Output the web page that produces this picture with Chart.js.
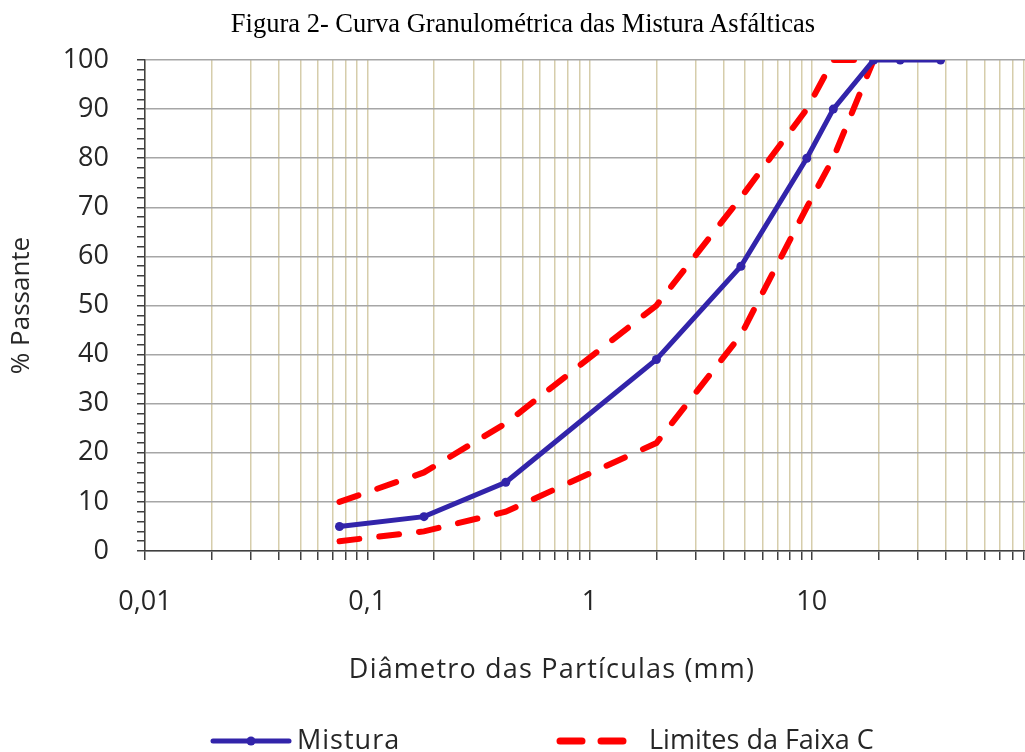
<!DOCTYPE html>
<html>
<head>
<meta charset="utf-8">
<script src="https://cdn.jsdelivr.net/npm/chart.js@4.4.1/dist/chart.umd.min.js"></script>
<style>
  body { margin: 0; background: #fff; overflow: hidden; }
  #page { position: relative; width: 1025px; height: 752px; overflow: hidden; }
  #wrap { position: absolute; left: 0; top: 0; width: 1060px; height: 752px; }
  #titulo { position: absolute; left: 0; width: 1046px; top: 10px; text-align: center;
    font: 26.5px/26px "Liberation Serif", "Times New Roman", serif; color: #000; white-space: nowrap; }
  #xtitulo { position: absolute; left: 552px; top: 655px; transform: translateX(-50%);
    font: 27px/26px "Open Sans", sans-serif; letter-spacing: 1.2px; color: #262626; white-space: nowrap; }
</style>
</head>
<body>
<div id="page">
  <div id="wrap"><canvas id="curva"></canvas></div>
  <div id="titulo">Figura 2- Curva Granulométrica das Mistura Asfálticas</div>
  <div id="xtitulo">Diâmetro das Partículas (mm)</div>
</div>
<script>
// Peneiras (mm) e % passante
const peneiras = [0.075, 0.18, 0.42, 2.0, 4.8, 9.5, 12.5, 19, 25, 38];
const mistura = [5, 7, 14, 39, 58, 80, 90, 100, 100, 100];

const peneirasFaixa = [0.075, 0.18, 0.42, 2.0, 4.8, 9.5, 12.5, 19];
const faixaSuperior = [10, 16, 26, 50, 72, 90, 100, 100];
const faixaInferior = [2, 4, 8, 22, 44, 70, 80, 100];

// eixo x logaritmico
const xGrade = [
  0.01, 0.02, 0.03, 0.04, 0.05, 0.06, 0.07, 0.08, 0.09,
  0.1, 0.2, 0.3, 0.4, 0.5, 0.6, 0.7, 0.8, 0.9,
  1, 2, 3, 4, 5, 6, 7, 8, 9,
  10, 20, 30, 40, 50, 60, 70, 80, 90, 100
];
const xMaiores = [0.01, 0.1, 1, 10];
const xRotulos = ["0,01", "0,1", "1", "10"];

const legendaRotulos = ["Mistura", "Limites da Faixa C"];

const azul = "#3224aa";
const vermelho = "#ff0000";

function pares(xs, ys) {
  return xs.map((x, i) => ({ x: x, y: ys[i] }));
}

// legenda desenhada abaixo do grafico
const legendaPlugin = {
  id: "legenda",
  afterDraw(chart) {
    const ctx = chart.ctx;
    const y = 741;
    ctx.save();
    ctx.lineCap = "round";
    ctx.strokeStyle = azul;
    ctx.lineWidth = 5;
    ctx.beginPath();
    ctx.moveTo(213, y);
    ctx.lineTo(289, y);
    ctx.stroke();
    ctx.fillStyle = azul;
    ctx.beginPath();
    ctx.arc(251, y, 4.5, 0, Math.PI * 2);
    ctx.fill();

    ctx.strokeStyle = vermelho;
    ctx.lineWidth = 7;
    ctx.setLineDash([22, 19]);
    ctx.beginPath();
    ctx.moveTo(560, y);
    ctx.lineTo(623, y);
    ctx.stroke();
    ctx.setLineDash([]);

    ctx.fillStyle = "#262626";
    ctx.font = '27px "Open Sans", sans-serif';
    ctx.textBaseline = "middle";
    ctx.letterSpacing = "1px";
    ctx.fillText(legendaRotulos[0], 297, y);
    ctx.letterSpacing = "0px";
    ctx.fillText(legendaRotulos[1], 649, y);
    ctx.restore();
  }
};

const ctx = document.getElementById("curva").getContext("2d");

const grafico = new Chart(ctx, {
  type: "line",
  data: {
    datasets: [
      {
        label: legendaRotulos[0],
        data: pares(peneiras, mistura),
        borderColor: azul,
        backgroundColor: azul,
        borderWidth: 5,
        pointRadius: 4.5,
        pointBorderWidth: 0,
        pointBackgroundColor: azul,
        fill: false,
        order: 0,
      },
      {
        label: legendaRotulos[1],
        data: pares(peneirasFaixa, faixaSuperior),
        borderColor: vermelho,
        borderWidth: 6,
        borderDash: [20, 20],
        borderCapStyle: "round",
        pointRadius: 0,
        fill: false,
        order: 1,
      },
      {
        label: legendaRotulos[1],
        data: pares(peneirasFaixa, faixaInferior),
        borderColor: vermelho,
        borderWidth: 6,
        borderDash: [20, 20],
        borderCapStyle: "round",
        pointRadius: 0,
        fill: false,
        order: 1,
      },
    ],
  },
  options: {
    responsive: true,
    maintainAspectRatio: false,
    animation: false,
    layout: { padding: { top: 60, right: 12, bottom: 81, left: 0 } },
    plugins: {
      legend: { display: false },
      tooltip: { enabled: false },
    },
    scales: {
      x: {
        type: "logarithmic",
        min: 0.01,
        max: 100,
        afterBuildTicks: (scale) => {
          scale.ticks = xGrade.map((v) => ({ value: v }));
        },
        afterFit: (scale) => { scale.height = 120; },
        grid: {
          color: "#d6cdab",
          lineWidth: 1.5,
          tickColor: "#404040",
          tickLength: 9,
        },
        border: { color: "#404040", width: 1.5 },
        ticks: {
          autoSkip: false,
          maxRotation: 0,
          padding: 26,
          color: "#262626",
          font: { family: "Open Sans", size: 27 },
          callback: function (value) {
            const i = xMaiores.findIndex((m) => Math.abs(m - value) < m * 1e-6);
            return i >= 0 ? xRotulos[i] : "";
          },
        },
      },
      y: {
        min: 0,
        max: 100,
        afterFit: (scale) => { scale.width = 145; },
        grid: {
          color: (c) => (c.tick && c.tick.value % 10 === 0 ? "#a6a6a6" : "rgba(0,0,0,0)"),
          lineWidth: 1.5,
          tickColor: "#404040",
          tickLength: 8,
        },
        border: { color: "#404040", width: 1.5 },
        title: {
          display: true,
          text: "% Passante",
          color: "#262626",
          font: { family: "Open Sans", size: 26 },
          padding: { top: 6, bottom: 0 },
        },
        ticks: {
          stepSize: 2,
          autoSkip: false,
          padding: 28,
          color: "#262626",
          font: { family: "Open Sans", size: 27 },
          callback: (value) => (value % 10 === 0 ? value : ""),
        },
      },
    },
  },
  plugins: [legendaPlugin],
});
</script>
</body>
</html>
